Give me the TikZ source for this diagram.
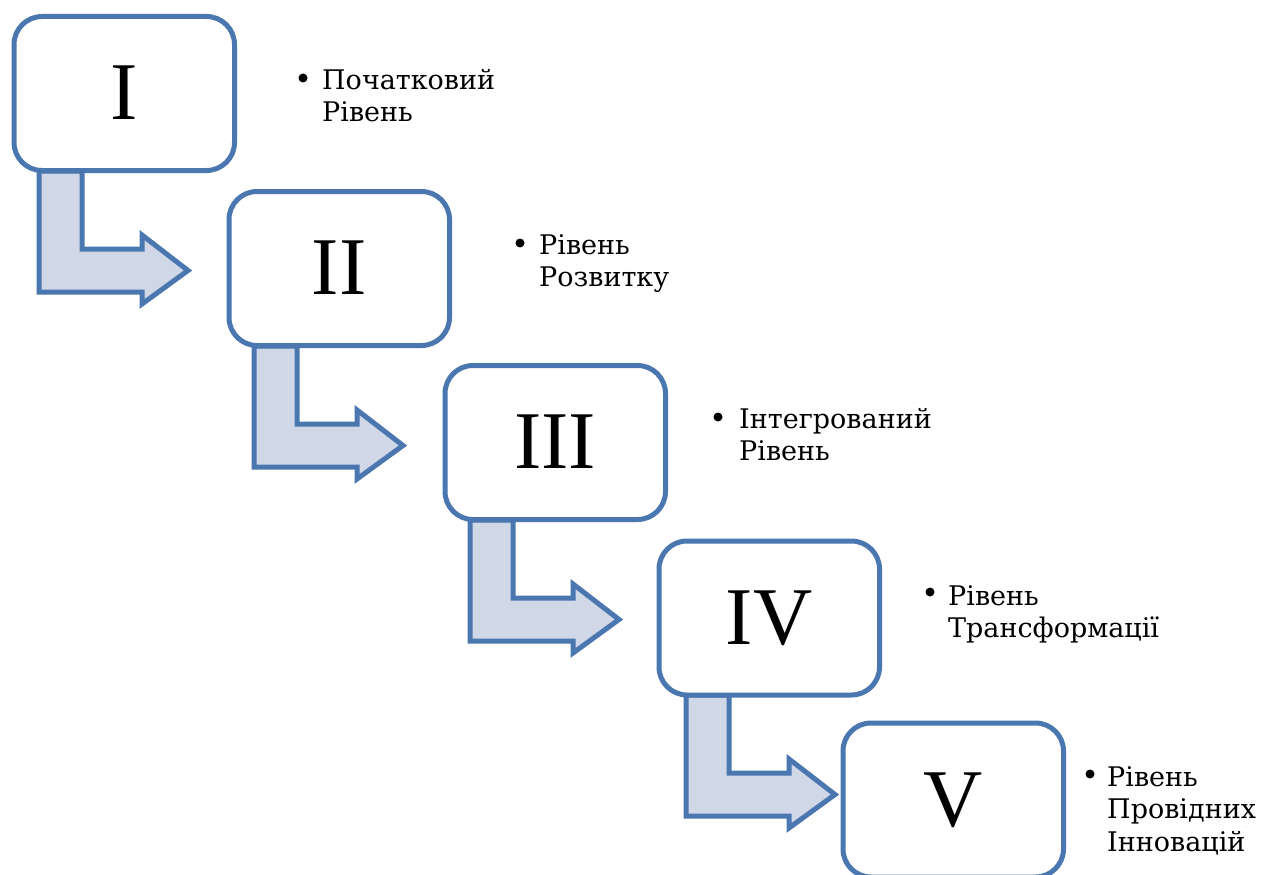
\documentclass[tikz,border=0pt]{standalone}
\usepackage{fontspec}
\setmainfont{DejaVu Serif}
\newfontfamily\numfont{Liberation Serif}
\definecolor{lineblue}{RGB}{74,119,176}
\definecolor{arrowfill}{RGB}{208,216,232}
\begin{document}
\begin{tikzpicture}[x=1pt,y=-1pt,
  stagebox/.style={draw=lineblue,fill=white,line width=5pt,rounded corners=28pt,minimum width=220.5pt,minimum height=154pt,inner sep=0pt,outer sep=0pt,anchor=north west},
  numlbl/.style={font=\numfont\fontsize{82}{90}\selectfont,inner sep=0pt,anchor=base},
  lbl/.style={font=\fontsize{27}{32.5}\selectfont,inner sep=0pt,anchor=base west},
  bul/.style={circle,fill=black,inner sep=0pt,minimum size=9pt},
  bentarrow/.style={draw=lineblue,fill=arrowfill,line width=5pt,line join=miter}]
\clip (0,0) rectangle (1264,875);
\fill[white] (0,0) rectangle (1264,875);
% bent arrows
\foreach \dx/\dy [count=\i] in {0/0,215/175,431/349,647/524}{
  \draw[bentarrow] (39+\dx,171+\dy) -- (82+\dx,171+\dy) -- (82+\dx,249+\dy) -- (142+\dx,249+\dy)
    -- (142+\dx,235+\dy) -- (188+\dx,270.5+\dy) -- (142+\dx,304+\dy) -- (142+\dx,292+\dy)
    -- (39+\dx,292+\dy) -- cycle;
}
% boxes
\node[stagebox] (b1) at (14,16.5) {};
\node[stagebox] (b2) at (229,191.5) {};
\node[stagebox] (b3) at (445,365.5) {};
\node[stagebox] (b4) at (659,541) {};
\node[stagebox] (b5) at (843,723) {};
\node[numlbl] (n1) at ([yshift=-26pt]b1.center) {I};
\node[numlbl] (n2) at ([yshift=-26pt]b2.center) {II};
\node[numlbl] (n3) at ([yshift=-26pt]b3.center) {III};
\node[numlbl] (n4) at ([yshift=-26pt]b4.center) {IV};
\node[numlbl] (n5) at ([yshift=-26pt]b5.center) {V};
% labels
\node[bul] (d1) at (303,78) {};
\node[lbl] (t1) at (322,89) {\begin{tabular}[t]{@{}l@{}}Початковий\\Рівень\end{tabular}};
\node[bul] (d2) at (520,243) {};
\node[lbl] (t2) at (539,254) {\begin{tabular}[t]{@{}l@{}}Рівень\\Розвитку\end{tabular}};
\node[bul] (d3) at (718,417) {};
\node[lbl] (t3) at (739,428) {\begin{tabular}[t]{@{}l@{}}Інтегрований\\Рівень\end{tabular}};
\node[bul] (d4) at (930,592) {};
\node[lbl] (t4) at (948,605) {\begin{tabular}[t]{@{}l@{}}Рівень\\Трансформації\end{tabular}};
\node[bul] (d5) at (1090,774) {};
\node[lbl] (t5) at (1107,786) {\begin{tabular}[t]{@{}l@{}}Рівень\\Провідних\\Інновацій\end{tabular}};
\end{tikzpicture}
\end{document}
